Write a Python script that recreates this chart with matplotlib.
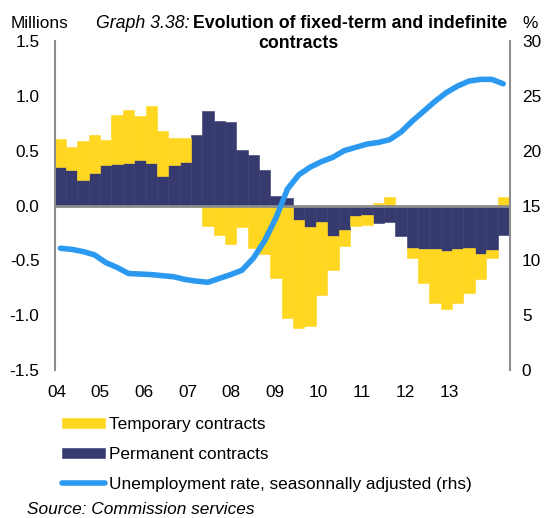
import numpy as np
import matplotlib
matplotlib.use("Agg")
import matplotlib.pyplot as plt

plt.rcParams['font.family'] = ['Liberation Sans', 'DejaVu Sans']

# quarterly data 2004Q1 - 2013Q4 (millions, y-o-y change)
temporary = [0.25, 0.21, 0.35, 0.34, 0.23, 0.45, 0.485, 0.40, 0.515, 0.41,
             0.25, 0.22, -0.01, -0.19, -0.27, -0.35, -0.20, -0.39, -0.44, -0.66,
             -1.03, -0.985, -0.90, -0.665, -0.31, -0.15, -0.09, -0.09, 0.02, 0.075,
             0.0, -0.09, -0.31, -0.49, -0.53, -0.49, -0.41, -0.23, -0.07, 0.075]
permanent = [0.355, 0.32, 0.235, 0.30, 0.37, 0.375, 0.385, 0.415, 0.39, 0.265,
             0.365, 0.40, 0.64, 0.86, 0.77, 0.76, 0.505, 0.46, 0.32, 0.09,
             0.065, -0.13, -0.195, -0.15, -0.28, -0.22, -0.10, -0.09, -0.16, -0.15,
             -0.275, -0.39, -0.395, -0.40, -0.415, -0.40, -0.39, -0.44, -0.41, -0.27]
unemployment = [11.1, 11.0, 10.8, 10.5, 9.8, 9.35, 8.8, 8.75, 8.7, 8.6,
                8.5, 8.25, 8.1, 8.0, 8.35, 8.7, 9.1, 10.2, 11.8, 13.9,
                16.5, 17.8, 18.5, 19.0, 19.4, 20.0, 20.3, 20.6, 20.75, 21.0,
                21.7, 22.7, 23.6, 24.5, 25.3, 25.9, 26.35, 26.5, 26.5, 26.1]
year_labels = ['04', '05', '06', '07', '08', '09', '10', '11', '12', '13']

yellow = '#FFD620'
navy = '#363A6E'
blue = '#2C99F0'
grey = '#8C8C8C'
fs = 12.4
fs_title = 12.8

x = np.arange(len(temporary))
temp = np.array(temporary)
perm = np.array(permanent)
# stack temporary on permanent only when both have the same sign
bottom = np.where(np.sign(temp) == np.sign(perm), perm, 0.0)

fig = plt.figure(figsize=(5.49, 5.18), dpi=100)
ax = fig.add_axes([54.7 / 549, 148 / 518, (510 - 54.7) / 549, (370 - 41) / 518])

b_perm = ax.bar(x, perm, width=1.0, color=navy, edgecolor=navy, linewidth=0.4,
                label='Permanent contracts')
b_temp = ax.bar(x, temp, width=1.0, bottom=bottom, color=yellow, edgecolor=yellow,
                linewidth=0.4, label='Temporary contracts')
ax.axhline(0, color=grey, lw=2, zorder=3)

ax.set_xlim(-0.5, 39.6)
ax.set_ylim(-1.5, 1.5)
ax.set_yticks(np.arange(-1.5, 1.51, 0.5))
ax.set_yticklabels([f'{v:.1f}' for v in np.arange(-1.5, 1.51, 0.5)])
ax.set_xticks(np.linspace(-0.33, 34.25, len(year_labels)))
ax.set_xticklabels(year_labels)
ax.tick_params(axis='y', length=0, pad=11, labelsize=fs)
ax.tick_params(axis='x', length=0, pad=11, labelsize=fs)
for s in ['top', 'bottom', 'right']:
    ax.spines[s].set_visible(False)
ax.spines['left'].set_color(grey)
ax.spines['left'].set_linewidth(1.5)

ax2 = ax.twinx()
l_unemp, = ax2.plot(x, unemployment, color=blue, lw=4, solid_capstyle='round',
                    solid_joinstyle='round',
                    label='Unemployment rate, seasonnally adjusted (rhs)')
ax2.set_ylim(0, 30)
ax2.set_yticks(np.arange(0, 31, 5))
ax2.tick_params(axis='y', length=0, pad=8.5, labelsize=fs)
for s in ['top', 'bottom', 'left']:
    ax2.spines[s].set_visible(False)
ax2.spines['right'].set_color(grey)
ax2.spines['right'].set_linewidth(1.5)

# title and unit labels
fig.text(11 / 549, 1 - 23 / 518, 'Millions', fontsize=fs, va='center', ha='left')
fig.text(522 / 549, 1 - 23 / 518, '%', fontsize=fs, va='center', ha='left')
fig.text(189.5 / 549, 1 - 23 / 518, 'Graph 3.38:', fontsize=fs_title, style='italic',
         va='center', ha='right')
fig.text(193 / 549, 1 - 23 / 518, 'Evolution of fixed-term and indefinite',
         fontsize=fs_title, weight='bold', va='center', ha='left')
fig.text(298 / 549, 1 - 43 / 518, 'contracts', fontsize=fs_title, weight='bold',
         va='center', ha='center')

fig.legend(handles=[b_temp, b_perm, l_unemp], loc='upper left',
           bbox_to_anchor=(62 / 549, 1 - 417 / 518), frameon=False,
           fontsize=fs, handlelength=2.5, handleheight=0.55, handletextpad=0.25,
           labelspacing=0.86, borderpad=0, borderaxespad=0)

fig.text(27 / 549, 1 - 510 / 518, 'Source: Commission services', fontsize=fs,
         style='italic', va='center', ha='left')

fig.savefig('out.png', dpi=100)
